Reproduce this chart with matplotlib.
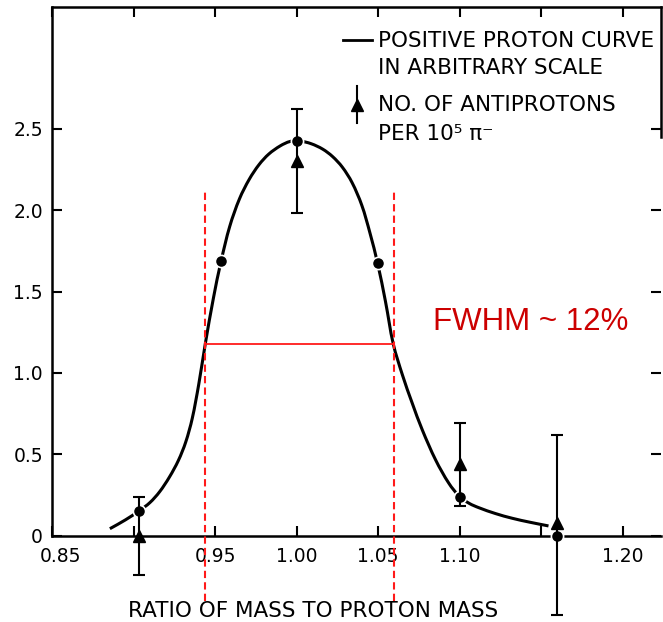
import numpy as np
import matplotlib.pyplot as plt
from matplotlib.path import Path
from matplotlib.patches import PathPatch
from matplotlib.transforms import ScaledTranslation

# positive proton curve (arbitrary scale)
curve_x = [0.8855, 0.8950, 0.9036, 0.9100, 0.9160, 0.9220, 0.9275, 0.9320,
           0.9360, 0.9400, 0.9440, 0.9490, 0.9537, 0.9590, 0.9650, 0.9710,
           0.9770, 0.9830, 0.9900, 0.9960, 1.0020, 1.0090, 1.0160, 1.0220,
           1.0280, 1.0340, 1.0400, 1.0450, 1.0497, 1.0545, 1.0593, 1.0650,
           1.0709, 1.0771, 1.0853, 1.0934, 1.1000, 1.1060, 1.1118, 1.1220,
           1.1323, 1.1430, 1.1545]
curve_y = [0.043, 0.097, 0.154, 0.203, 0.270, 0.360, 0.462, 0.575,
           0.720, 0.930, 1.178, 1.460, 1.687, 1.900, 2.070, 2.190,
           2.280, 2.345, 2.395, 2.422, 2.425, 2.408, 2.375, 2.330,
           2.265, 2.170, 2.030, 1.860, 1.673, 1.440, 1.178, 0.985,
           0.815, 0.650, 0.465, 0.322, 0.240, 0.198, 0.172, 0.136,
           0.107, 0.083, 0.060]

# measured positive proton points
proton_x = [0.9036, 0.9537, 1.0000, 1.0497, 1.1000, 1.1600]
proton_y = [0.154, 1.687, 2.426, 1.673, 0.240, 0.0]

# antiprotons per 10^5 pi-
pbar_x = [0.9036, 1.0000, 1.1000, 1.1600]
pbar_y = [0.0, 2.30, 0.44, 0.08]
pbar_err_lo = [0.24, 0.32, 0.26, 0.57]
pbar_err_hi = [0.24, 0.32, 0.25, 0.54]

# half maximum width
half_max = 1.178
fwhm_left = 0.9437
fwhm_right = 1.0597

xticks = [0.85, 0.90, 0.95, 1.00, 1.05, 1.10, 1.15, 1.20]
xticklabels = ["0.85", "", "0.95", "1.00", "1.05", "1.10", "", "1.20"]
yticks = [0, 0.5, 1.0, 1.5, 2.0, 2.5]
yticklabels = ["0", "0.5", "1.0", "1.5", "2.0", "2.5"]

plt.rcParams["font.family"] = ["DejaVu Sans"]


def smooth_path(xs, ys, sx, sy):
    # cubic bezier through the traced points, chord-length tangents
    # (sx, sy: rough pixels per data unit, so chords are measured on screen)
    p = np.column_stack([xs, ys])
    q = p * [sx, sy]
    t = np.concatenate([[0], np.cumsum(np.hypot(*np.diff(q, axis=0).T))])
    n = len(p)
    m = np.empty_like(p)
    m[0] = (p[1] - p[0]) / (t[1] - t[0])
    m[-1] = (p[-1] - p[-2]) / (t[-1] - t[-2])
    for i in range(1, n - 1):
        m[i] = (p[i + 1] - p[i - 1]) / (t[i + 1] - t[i - 1])
    verts = [p[0]]
    codes = [Path.MOVETO]
    for i in range(n - 1):
        h = t[i + 1] - t[i]
        verts += [p[i] + m[i] * h / 3, p[i + 1] - m[i + 1] * h / 3, p[i + 1]]
        codes += [Path.CURVE4] * 3
    return Path(verts, codes)


fig = plt.figure(figsize=(6.63, 6.22), dpi=100)
ax = fig.add_axes([52 / 663, 86.3 / 622, 609 / 663, 529 / 622])

ax.add_patch(PathPatch(smooth_path(curve_x, curve_y, 1630, 163), fill=False,
                       edgecolor="black", lw=2.2, capstyle="butt", zorder=2))
ax.plot(proton_x, proton_y, "o", ms=8.8, mfc="black", mec="white", mew=1.2,
        zorder=3, clip_on=False)

eb = ax.errorbar(pbar_x, pbar_y, yerr=[pbar_err_lo, pbar_err_hi], fmt="^",
                 color="black", ms=9, capsize=4, elinewidth=1.5, capthick=1.5,
                 zorder=4)
for line in [eb[0], *eb[1], *eb[2]]:
    line.set_clip_on(False)

# FWHM markers
ax.vlines([fwhm_left, fwhm_right], -0.40, 2.13, colors="#ff1a1a", lw=1.5,
          linestyles=(0, (3.5, 2)), zorder=5, clip_on=False)
ax.hlines(half_max, fwhm_left, fwhm_right, colors="#ff1a1a", lw=1.3, zorder=5)
ax.text(1.0835, 1.265, "FWHM ~ 12%", color="#cc0000", fontsize=22.5,
        family="Liberation Sans", ha="left", va="baseline")

# key
ax.plot([0.478, 0.525], [0.937, 0.937], color="black", lw=2,
        transform=ax.transAxes)
ax.plot([0.5008, 0.5008], [0.780, 0.850], color="black", lw=1.5,
        transform=ax.transAxes)
ax.plot([0.5008], [0.815], "^", color="black", ms=9, transform=ax.transAxes)
key_lines = ["POSITIVE PROTON CURVE", "IN ARBITRARY SCALE",
             "NO. OF ANTIPROTONS", "PER 10⁵ π⁻"]
for txt, yy in zip(key_lines, [0.9238, 0.8727, 0.8028, 0.7480]):
    ax.text(0.535, yy, txt, fontsize=15.5, ha="left", va="baseline",
            transform=ax.transAxes)

ax.text(0.4294, -0.1537, "RATIO OF MASS TO PROTON MASS", fontsize=15.5,
        ha="center", va="baseline", transform=ax.transAxes, clip_on=False)

ax.set_xlim(0.85, 1.2235)
ax.set_ylim(0, 3.25)
ax.set_xticks(xticks)
ax.set_xticklabels(xticklabels)
ax.set_yticks(yticks)
ax.set_yticklabels(yticklabels)
ax.tick_params(direction="in", length=7, width=1.5, labelsize=13.5,
               top=True, right=True, color="black")
ax.tick_params(axis="x", pad=8)
ax.tick_params(axis="y", pad=6.5)

# first x label sits a little right of the corner
lbl = ax.get_xticklabels()[0]
lbl.set_transform(lbl.get_transform() + ScaledTranslation(6 / 72, 0, fig.dpi_scale_trans))

for s in ax.spines.values():
    s.set_linewidth(1.8)
ax.spines["right"].set_bounds(2.45, 3.25)

fig.savefig("out.png", dpi=100)
